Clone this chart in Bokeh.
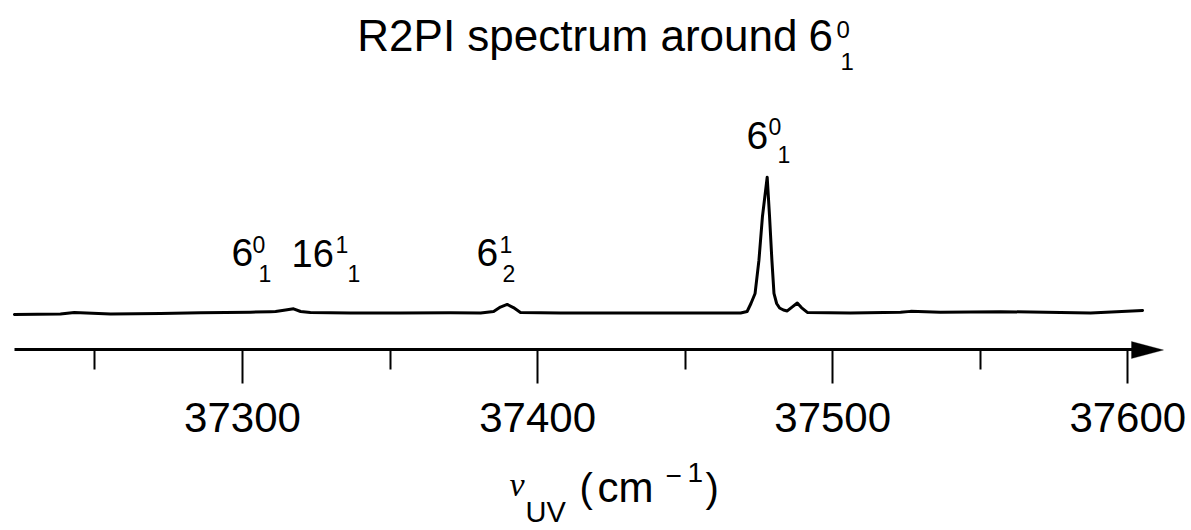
from bokeh.plotting import figure
from bokeh.models import (Range1d, Label, FixedTicker, PolyAnnotation, ColumnDataSource)
from bokeh.embed import file_html
from bokeh.resources import INLINE

# R2PI trace around the 6^0_1 band: wavenumber (cm^-1) and relative ion signal
wavenumber = [37222.7, 37238.3, 37243.0, 37255.3, 37272.2, 37285.8, 37302.7,
              37309.5, 37311.2, 37314.6, 37317.3, 37319.7, 37323.0, 37336.6,
              37353.5, 37370.5, 37380.7, 37385.1, 37387.4, 37389.7, 37391.8,
              37394.2, 37407.8, 37428.1, 37455.2, 37468.8, 37471.0, 37472.3,
              37473.7, 37475.0, 37476.2, 37477.8, 37478.6, 37479.4, 37480.1,
              37481.0, 37482.0, 37483.3, 37484.6, 37486.0, 37488.0, 37489.4,
              37491.4, 37506.0, 37523.0, 37526.4, 37536.5, 37556.9, 37577.2,
              37587.4, 37605.0]
signal = [-0.011, -0.008, 0.004, -0.007, -0.004, 0.002, 0.006,
          0.010, 0.011, 0.022, 0.031, 0.011, 0.004, 0.0,
          0.0, 0.002, 0.0, 0.011, 0.044, 0.063, 0.040,
          0.004, 0.0, 0.0, 0.0, 0.0, 0.011, 0.070,
          0.144, 0.387, 0.711, 1.000, 0.711, 0.387, 0.144,
          0.070, 0.037, 0.022, 0.015, 0.040, 0.074, 0.040,
          0.004, 0.0, 0.006, 0.012, 0.006, 0.010, 0.004,
          0.0, 0.018]

major_ticks = [37300, 37400, 37500, 37600]
minor_ticks = [37250, 37350, 37450, 37550]

W, H = 1191, 530
x0, x1 = 37217.99, 37621.59          # frame spans the whole canvas
y0, y1 = -1.6016, 2.3012
axis_y = -0.2688                     # signal level where the frequency axis sits

p = figure(width=W, height=H, output_backend="svg", toolbar_location=None,
           x_range=Range1d(x0, x1), y_range=Range1d(y0, y1),
           y_axis_type=None, x_axis_location="below",
           min_border=0, min_border_left=0, min_border_right=0,
           min_border_top=0, min_border_bottom=0,
           background_fill_color="white", border_fill_color="white")
p.outline_line_color = None
p.grid.visible = False


def X(px):
    return x0 + px / W * (x1 - x0)


def Y(py):
    return y1 - py / H * (y1 - y0)


ax = p.xaxis[0]
ax.fixed_location = axis_y
ax.bounds = (X(14), X(1150))
ax.ticker = FixedTicker(ticks=major_ticks, minor_ticks=minor_ticks)
ax.axis_line_width = 3
ax.axis_line_color = "black"
ax.major_tick_line_width = 2
ax.minor_tick_line_width = 2
ax.major_tick_line_color = "black"
ax.minor_tick_line_color = "black"
ax.major_tick_in = 0
ax.minor_tick_in = 0
ax.major_tick_out = 34
ax.minor_tick_out = 20
ax.major_label_text_font = "Liberation Sans"
ax.major_label_text_font_size = "42px"
ax.major_label_text_color = "black"
ax.major_label_standoff = 19

src = ColumnDataSource(dict(x=wavenumber, y=signal))
p.line("x", "y", source=src, line_color="black", line_width=3,
       line_join="round", line_cap="round")

# arrow head at the end of the frequency axis
p.add_layout(PolyAnnotation(xs=[X(1131), X(1163), X(1131)],
                            ys=[Y(341), Y(349.5), Y(358)],
                            fill_color="black", fill_alpha=1.0,
                            line_color="black", line_width=1))


def txt(s, px, py, size, align="left", font="Liberation Sans", style="normal"):
    # py is the intended baseline; Label's box sits a little lower, so lift it
    p.add_layout(Label(x=X(px), y=Y(py - 0.38 * size), text=s, text_font=font,
                       text_font_size=f"{size}px", text_font_style=style,
                       text_color="black", text_align=align,
                       text_baseline="alphabetic"))


# title
txt("R2PI spectrum around", 797, 52, 44, align="right")
txt("6", 808, 52, 44)
txt("0", 836, 38, 24)
txt("1", 840, 70, 24)

# band labels
txt("6", 231, 267, 39)
txt("0", 252, 253, 23)
txt("1", 258, 282, 23)

txt("16", 291, 267, 38)
txt("1", 335, 253, 23)
txt("1", 347, 282, 23)

txt("6", 476, 267, 39)
txt("1", 499, 253, 23)
txt("2", 502, 282, 23)

txt("6", 746, 150, 39)
txt("0", 768, 135, 23)
txt("1", 777, 163, 23)

# axis label: nu_UV (cm^-1)
txt("\u03bd", 509, 497, 34, font="Liberation Serif", style="italic")
txt("UV", 525, 523, 29)
txt("(", 579, 503, 40)
txt("cm", 597, 503, 42)
txt("\u2212", 665, 486, 28)
txt("1", 687, 483, 28)
txt(")", 705, 503, 40)

open("out.html", "w").write(file_html(p, INLINE))
